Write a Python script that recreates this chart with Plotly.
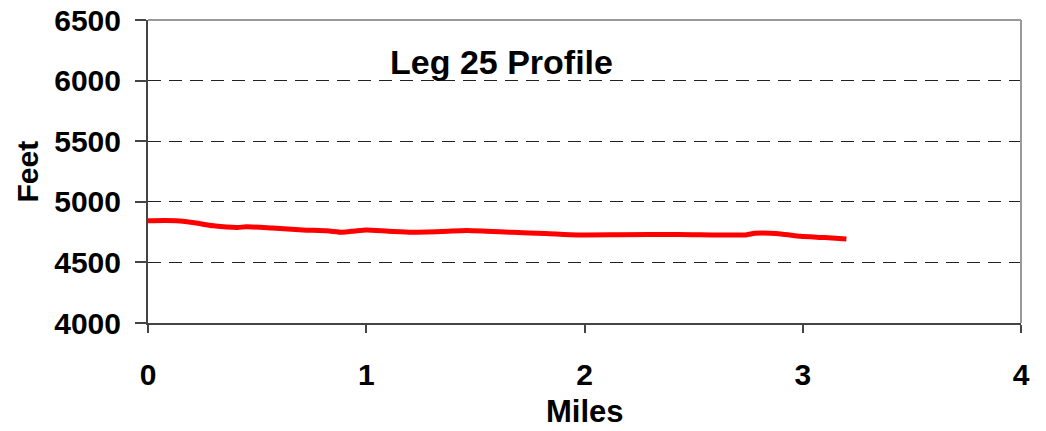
import plotly.graph_objects as go

miles = [0, 0.08, 0.16, 0.22, 0.30, 0.41, 0.45, 0.57, 0.71, 0.82, 0.89, 0.95, 1.0, 1.1,
         1.21, 1.35, 1.46, 1.55, 1.67, 1.82, 1.97, 2.16, 2.43, 2.74, 2.78, 2.90, 2.99, 3.1, 3.2]
feet = [4843, 4845, 4840, 4825, 4802, 4788, 4794, 4783, 4768, 4761, 4749, 4760, 4767, 4758,
        4749, 4755, 4763, 4757, 4748, 4739, 4727, 4728, 4731, 4727, 4740, 4735, 4715, 4705, 4693]

x_ticks = [0, 1, 2, 3, 4]
y_ticks = [4000, 4500, 5000, 5500, 6000, 6500]

FONT = "Liberation Sans, Arial, sans-serif"

fig = go.Figure()
fig.add_trace(go.Scatter(x=miles, y=feet, mode="lines",
                         line=dict(color="#FF0000", width=5, shape="spline", smoothing=0.6),
                         showlegend=False, hoverinfo="skip"))

# The page body has an 8px default margin, so the figure is sized/offset to compensate.
fig.update_layout(
    width=1038, height=423,
    margin=dict(l=140, r=25, t=12, b=108, autoexpand=False),
    paper_bgcolor="white", plot_bgcolor="white",
    font=dict(family=FONT, color="black"),
    xaxis=dict(range=[0, 4], tickvals=x_ticks, ticktext=[str(v) for v in x_ticks],
               showgrid=False, zeroline=False, automargin=False,
               showline=True, linecolor="#444444", linewidth=2,
               ticks="outside", ticklen=8, tickcolor="#444444", tickwidth=1.5,
               ticklabelstandoff=16, ticklabeloverflow="allow",
               tickfont=dict(family=FONT, size=30, color="black", weight="bold")),
    yaxis=dict(range=[4000, 6500], tickvals=y_ticks, ticktext=[str(v) for v in y_ticks],
               showgrid=True, gridcolor="#222222", gridwidth=1, griddash="13px,8px",
               zeroline=False, automargin=False,
               showline=True, linecolor="#444444", linewidth=2,
               ticks="outside", ticklen=11, tickcolor="#444444", tickwidth=1.5,
               ticklabelstandoff=8, ticklabeloverflow="allow",
               tickfont=dict(family=FONT, size=30, color="black", weight="bold")),
    annotations=[
        dict(text="<b>Leg 25 Profile</b>", xref="paper", yref="paper",
             x=0.405, y=0.861, xanchor="center", yanchor="middle", showarrow=False,
             font=dict(family=FONT, size=34, color="black")),
        dict(text="<b>Miles</b>", xref="paper", yref="paper",
             x=0.5, y=-0.293, xanchor="center", yanchor="middle", showarrow=False,
             font=dict(family=FONT, size=31, color="black")),
        dict(text="<b>Feet</b>", xref="paper", yref="paper",
             x=-0.1375, y=0.5, xanchor="center", yanchor="middle", showarrow=False,
             textangle=-90, font=dict(family=FONT, size=30, color="black")),
    ],
    shapes=[
        dict(type="line", xref="paper", yref="paper", x0=0, x1=1, y0=1, y1=1,
             line=dict(color="#999999", width=2), layer="above"),
        dict(type="line", xref="paper", yref="paper", x0=1, x1=1, y0=0, y1=1,
             line=dict(color="#999999", width=2), layer="above"),
    ],
)

fig.write_html("out.html")
